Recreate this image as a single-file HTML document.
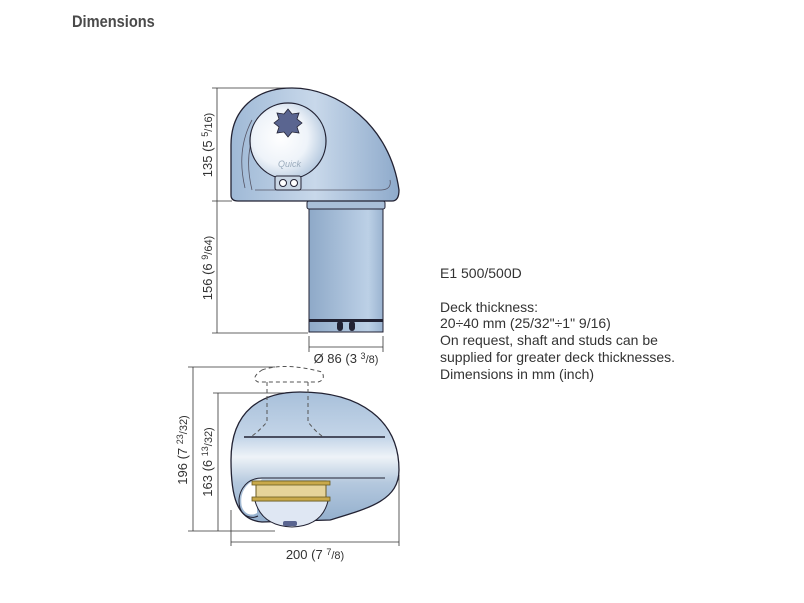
<!DOCTYPE html>
<html><head><meta charset="utf-8"><style>
body{margin:0;width:804px;height:603px;background:#fff;overflow:hidden;font-family:"Liberation Sans",sans-serif}
svg{position:absolute;left:0;top:0}
</style></head><body>
<svg width="804" height="603" viewBox="0 0 804 603" xmlns="http://www.w3.org/2000/svg">
<defs>
<linearGradient id="body" x1="0" x2="1"><stop offset="0" stop-color="#9fb9d6"/><stop offset="0.5" stop-color="#c8d8ea"/><stop offset="1" stop-color="#8eaacb"/></linearGradient>
<linearGradient id="shaft" x1="0" x2="1"><stop offset="0" stop-color="#8ea9c8"/><stop offset="0.8" stop-color="#bcd0e6"/><stop offset="1" stop-color="#9ab3d0"/></linearGradient>
<radialGradient id="win" cx="0.4" cy="0.45" r="0.6"><stop offset="0" stop-color="#ffffff"/><stop offset="0.6" stop-color="#eef3f9"/><stop offset="1" stop-color="#b8cbe0"/></radialGradient>
<linearGradient id="side" x1="0" y1="0" x2="0" y2="1"><stop offset="0" stop-color="#a8c0da"/><stop offset="0.35" stop-color="#c4d5e8"/><stop offset="0.5" stop-color="#eef3f8"/><stop offset="0.7" stop-color="#b4c8de"/><stop offset="1" stop-color="#93afcd"/></linearGradient>
</defs>
<text x="72" y="27" font-size="17" font-weight="bold" fill="#4a4a4a" transform="translate(72 0) scale(0.86 1) translate(-72 0)">Dimensions</text>

<!-- top view -->
<g stroke="#333" stroke-width="0.8" fill="none">
<line x1="217" y1="88" x2="217" y2="333"/>
<line x1="212" y1="88" x2="290" y2="88"/>
<line x1="212" y1="201" x2="232" y2="201"/>
<line x1="212" y1="333" x2="308" y2="333"/>
<line x1="309" y1="336" x2="309" y2="352"/>
<line x1="383" y1="336" x2="383" y2="352"/>
<line x1="309" y1="347" x2="383" y2="347"/>
</g>
<path d="M309 201 L383 201 L383 332 L309 332 Z" fill="url(#shaft)" stroke="#223" stroke-width="1"/>
<rect x="307" y="201" width="78" height="8" rx="2" fill="#a9bfd8" stroke="#223" stroke-width="1"/>
<rect x="309" y="319" width="74" height="3" fill="#223"/>
<rect x="337" y="321" width="6" height="10" rx="3" fill="#223"/>
<rect x="349" y="321" width="6" height="10" rx="3" fill="#223"/>
<path d="M231 195 L231 145 C231 110 255 88 292 88 C338 88 390 125 399 190 Q399 201 392 201 L238 201 Q231 201 231 195 Z" fill="url(#body)" stroke="#223" stroke-width="1.3"/>
<path d="M252 190 Q240 140 270 110 M245 188 Q236 150 252 120" stroke="#556" stroke-width="0.8" fill="none"/>
<path d="M255 190 L380 190 Q392 190 390 180" stroke="#556" stroke-width="0.8" fill="none"/>
<circle cx="288" cy="141" r="38" fill="url(#win)" stroke="#223" stroke-width="1.2"/>
<polygon points="288,109 292,114 299,113 297,119 302,123 297,127 299,133 292,132 288,137 284,132 277,133 279,127 274,123 279,119 277,113 284,114" fill="#5a6590" stroke="#223" stroke-width="0.8"/>
<text x="278" y="167" font-size="9" fill="#9ab" font-style="italic">Quick</text>
<rect x="275" y="176" width="26" height="14" rx="2" fill="#c9d6e4" stroke="#223" stroke-width="1"/>
<circle cx="283" cy="183" r="3.5" fill="#fff" stroke="#223"/><circle cx="294" cy="183" r="3.5" fill="#fff" stroke="#223"/>
<text font-size="13" fill="#333" transform="translate(212 145) rotate(-90)" text-anchor="middle">135 (5 <tspan font-size="9" dy="-4">5</tspan><tspan font-size="11" dy="4">/16)</tspan></text>
<text font-size="13" fill="#333" transform="translate(212 268) rotate(-90)" text-anchor="middle">156 (6 <tspan font-size="9" dy="-4">9</tspan><tspan font-size="11" dy="4">/64)</tspan></text>
<text x="346" y="363" font-size="13" fill="#333" text-anchor="middle">Ø 86 (3 <tspan font-size="9" dy="-4">3</tspan><tspan font-size="11" dy="4">/8)</tspan></text>

<!-- side view -->
<g stroke="#333" stroke-width="0.8" fill="none">
<line x1="193" y1="367" x2="193" y2="531"/>
<line x1="188" y1="367" x2="275" y2="367"/>
<line x1="218" y1="393" x2="218" y2="531"/>
<line x1="213" y1="393" x2="290" y2="393"/>
<line x1="188" y1="531" x2="275" y2="531"/>
<line x1="231" y1="510" x2="231" y2="546"/>
<line x1="399" y1="475" x2="399" y2="546"/>
<line x1="231" y1="542" x2="399" y2="542"/>
</g>
<path d="M262 522 C236 520 231 495 231 460 C231 410 262 392 300 392 C360 392 399 420 399 470 C399 500 370 508 330 520 L262 522 Z" fill="url(#side)" stroke="#223" stroke-width="1.3"/>
<line x1="244" y1="437" x2="385" y2="437" stroke="#223" stroke-width="1.5"/>
<path d="M385 478 L262 478 C244 478 236 495 240 508 C243 517 252 519 258 516" fill="none" stroke="#223" stroke-width="1"/>
<path d="M262 479 C245 480 239 495 242 507 C245 515 252 516 257 513 L257 484 Z" fill="#fff"/>
<path d="M255 501 Q262 526 292 527 Q322 526 328 501 Z" fill="#dfe7f3" stroke="#223" stroke-width="1"/>
<rect x="283" y="521" width="14" height="5" rx="2" fill="#5a6590"/>
<rect x="256" y="481" width="70" height="20" fill="#e6d49a" stroke="#6a5a20" stroke-width="1"/>
<rect x="252" y="481" width="78" height="4" fill="#c9a94a" stroke="#6a5a20" stroke-width="0.8"/>
<rect x="252" y="497" width="78" height="4" fill="#c9a94a" stroke="#6a5a20" stroke-width="0.8"/>
<path d="M262 370 Q285 362 322 372 Q326 380 318 382 L258 382 Q250 378 262 370 Z" fill="none" stroke="#555" stroke-width="1" stroke-dasharray="4 3"/>
<path d="M267 382 L267 422 Q258 432 252 436 M308 382 L308 422 Q316 432 322 436" fill="none" stroke="#555" stroke-width="1" stroke-dasharray="4 3"/>
<text font-size="13" fill="#333" transform="translate(187 450) rotate(-90)" text-anchor="middle">196 (7 <tspan font-size="9" dy="-4">23</tspan><tspan font-size="11" dy="4">/32)</tspan></text>
<text font-size="13" fill="#333" transform="translate(212 462) rotate(-90)" text-anchor="middle">163 (6 <tspan font-size="9" dy="-4">13</tspan><tspan font-size="11" dy="4">/32)</tspan></text>
<text x="315" y="559" font-size="13" fill="#333" text-anchor="middle">200 (7 <tspan font-size="9" dy="-4">7</tspan><tspan font-size="11" dy="4">/8)</tspan></text>

<g font-size="14" fill="#333">
<text x="440" y="278">E1 500/500D</text>
<text x="440" y="312">Deck thickness:</text>
<text x="440" y="328">20÷40 mm (25/32"÷1" 9/16)</text>
<text x="440" y="345">On request, shaft and studs can be</text>
<text x="440" y="362">supplied for greater deck thicknesses.</text>
<text x="440" y="379">Dimensions in mm (inch)</text>
</g>
</svg>
</body></html>
